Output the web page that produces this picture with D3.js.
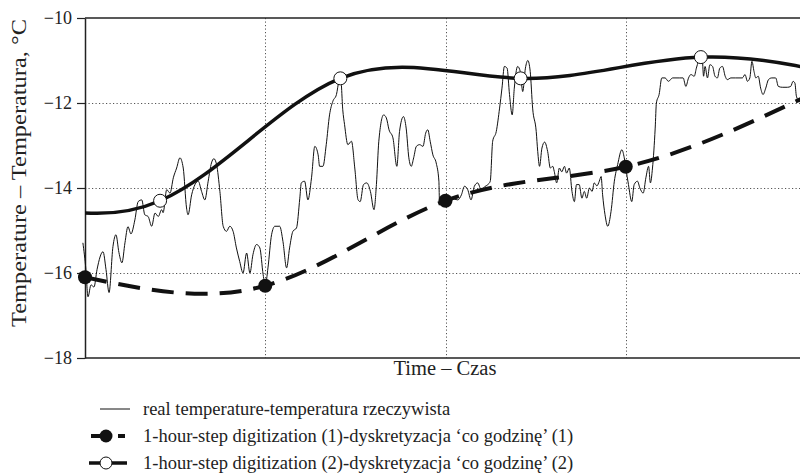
<!DOCTYPE html>
<html>
<head>
<meta charset="utf-8">
<script src="https://cdn.jsdelivr.net/npm/d3@7"></script>
<style>
  body { margin: 0; background: #fff; }
  svg { display: block; font-family: "Liberation Serif", "Times New Roman", serif; }
</style>
</head>
<body>
<svg id="chart" width="800" height="476"></svg>
<script>
// real temperature, minutes from start / degrees C
var realMin = [-0.7, 0.3, 1.0, 2.0, 3.0, 4.0, 6.0, 7.0, 8.0, 9.3, 10.3, 11.3, 12.3, 13.3, 14.3, 15.3, 16.6, 17.7, 18.9, 19.9,
  21.0, 22.2, 23.3, 24.4, 25.5, 26.0, 27.2, 28.3, 29.4, 30.5, 31.6, 32.7, 33.8, 34.3, 35.5, 36.6, 37.7, 38.8, 39.9, 41.0,
  42.1, 42.9, 43.8, 44.9, 46.0, 47.1, 48.2, 49.3, 50.4, 51.5, 52.6, 53.8, 54.9, 55.9, 57.1, 58.2, 59.3, 60.0,
  60.9, 62.1, 63.2, 64.8, 65.9, 67.1, 68.1, 69.2, 70.4, 71.5, 72.0, 73.1, 74.2, 75.4, 76.5, 77.6, 78.1, 79.2, 80.3, 81.4,
  82.5, 83.7, 84.5, 85.1, 85.8, 86.4, 87.5, 88.7, 89.8, 90.9, 91.6, 92.7, 93.8, 95.0, 96.2, 97.0, 97.8, 99.4, 100.3, 101.2,
  102.5, 103.8, 104.7, 106.0, 106.9, 107.8, 108.6, 109.4, 110.3, 111.4, 112.5, 113.4, 114.1, 114.9, 115.8, 116.9, 117.8, 118.0, 120.0,
  122.0, 124.1, 125.3, 126.3, 127.4, 128.5, 129.6, 130.7, 131.9, 133.0, 134.1, 134.9, 135.7, 136.9, 138.0, 138.8, 139.6, 140.5,
  141.3, 142.2, 142.9, 144.0, 144.9, 145.7, 146.6, 147.4, 148.2, 149.0, 150.2, 150.7, 151.3, 152.1, 153.0, 154.0, 154.9, 155.7,
  156.2, 157.0, 157.9, 158.7, 159.6, 160.3, 161.2, 162.1, 162.9, 163.6, 164.5, 165.4, 166.2, 167.0, 167.9, 168.8, 169.5, 170.4,
  171.2, 171.8, 172.3, 173.1, 174.0, 175.1, 176.2, 177.3, 178.7, 179.5, 180.0,
  180.9, 182.0, 182.8, 183.9, 184.7, 185.8, 186.7, 187.6, 188.2, 188.9, 189.8, 190.2, 191.1, 192.0, 193.1, 194.2, 195.6, 197.8,
  199.1, 200.0, 200.9, 201.7, 202.8, 203.5, 204.2, 205.4, 205.9, 206.4, 207.2, 208.0, 208.9, 209.7, 210.5, 211.3, 212.2, 213.1,
  213.8, 215.0, 216.6, 218.8, 219.7, 220.5, 221.3, 222.0, 222.7, 223.3, 224.1, 224.9, 225.7, 226.6, 227.5, 228.6, 229.9, 230.8,
  232.1, 233.8, 234.9, 235.7, 236.3, 236.8, 237.7, 238.5];
var realTemp = [-15.29, -15.92, -16.56, -16.28, -16.33, -15.92, -15.50, -15.92, -16.46, -15.38, -15.10, -15.52, -15.76, -15.29, -14.91, -15.08, -14.75, -14.32, -14.28, -14.63,
  -14.67, -14.90, -14.59, -14.67, -14.51, -14.58, -14.04, -14.12, -13.76, -13.53, -13.29, -13.53, -14.47, -14.63, -14.16, -13.92, -13.84, -14.08, -14.28, -13.84,
  -13.41, -13.31, -13.45, -14.08, -14.90, -15.02, -14.90, -15.02, -15.41, -15.73, -16.00, -15.53, -16.00, -15.57, -15.33, -15.41, -16.04, -16.30,
  -15.88, -15.10, -14.90, -14.90, -15.26, -15.88, -15.41, -15.02, -14.94, -14.24, -13.88, -13.84, -14.28, -13.76, -13.02, -13.22, -13.49, -13.49, -12.98, -12.28,
  -11.96, -11.80, -11.49, -11.40, -12.16, -12.51, -12.98, -12.90, -13.53, -14.28, -14.32, -13.92, -13.88, -14.08, -14.51, -13.92, -12.90, -12.28, -12.35, -12.63,
  -12.82, -13.49, -12.67, -12.32, -12.59, -13.29, -13.49, -13.29, -13.02, -12.98, -13.02, -12.71, -12.63, -12.90, -13.22, -13.41, -13.84, -14.32, -14.30,
  -14.25, -14.28, -14.16, -13.96, -14.04, -14.28, -13.96, -13.88, -14.04, -13.97, -13.92, -13.84, -12.90, -12.67, -12.12, -11.65, -11.14, -11.18,
  -11.80, -12.28, -11.65, -11.14, -11.26, -11.73, -11.18, -11.00, -11.26, -12.12, -12.67, -13.14, -13.49, -13.06, -12.92, -13.14, -13.53, -13.49,
  -13.61, -13.88, -13.53, -13.62, -13.49, -13.65, -13.53, -14.08, -14.32, -13.92, -13.92, -14.24, -14.08, -14.24, -14.00, -14.08, -13.88, -13.95,
  -13.84, -13.73, -14.16, -14.63, -14.90, -14.55, -13.84, -13.45, -13.10, -13.29, -13.52,
  -13.92, -14.32, -13.92, -13.84, -14.00, -14.12, -13.76, -13.49, -13.88, -13.53, -12.59, -12.00, -11.80, -11.41, -11.41, -11.49, -11.41, -11.41,
  -11.41, -11.61, -11.41, -11.33, -11.37, -11.18, -11.02, -10.90, -11.37, -11.14, -11.41, -11.10, -11.14, -11.37, -11.41, -11.18, -11.14, -11.37,
  -11.45, -11.41, -11.41, -11.41, -11.33, -11.49, -11.41, -11.02, -11.26, -11.41, -11.37, -11.65, -11.80, -11.65, -11.45, -11.41, -11.41, -11.61,
  -11.63, -11.63, -11.61, -11.49, -11.53, -11.84, -11.96, -12.00];

// digitization (1): samples on the full hour (last one lies past the right edge)
var dig1Min = [0, 60, 120, 180, 240];
var dig1Temp = [-16.1, -16.3, -14.3, -13.5, -11.85];

// digitization (2): samples shifted by 25 min (first and last lie outside the plot)
var dig2Min = [-35, 25, 85, 145, 205, 265];
var dig2Temp = [-14.0, -14.3, -11.42, -11.42, -10.92, -11.6];

var yTicks = [-10, -12, -14, -16, -18];
var gridMin = [60, 120, 180];
var timeMax = 238;

var legendItems = [
  "real temperature-temperatura rzeczywista",
  "1-hour-step digitization (1)-dyskretyzacja \u2018co godzin\u0119\u2019 (1)",
  "1-hour-step digitization (2)-dyskretyzacja \u2018co godzin\u0119\u2019 (2)"
];

var svg = d3.select("#chart");

var plotL = 85, plotR = 800, plotT = 18, plotB = 358;

var x = d3.scaleLinear().domain([0, timeMax]).range([plotL, plotR]);
var y = d3.scaleLinear().domain([-18, -10]).range([plotB, plotT]);

svg.append("defs").append("clipPath").attr("id", "plotclip")
  .append("rect")
  .attr("x", plotL).attr("y", plotT)
  .attr("width", plotR - plotL).attr("height", plotB - plotT);

// dotted grid
var grid = svg.append("g").attr("stroke", "#555").attr("stroke-width", 1).attr("stroke-dasharray", "1.2,2.3");
grid.selectAll(".hg")
  .data(yTicks.filter(function(d) { return d != -10 && d != -18; }))
  .enter().append("line")
  .attr("x1", plotL).attr("x2", plotR)
  .attr("y1", function(d) { return Math.round(y(d)) + 0.5; })
  .attr("y2", function(d) { return Math.round(y(d)) + 0.5; });
grid.selectAll(".vg")
  .data(gridMin)
  .enter().append("line")
  .attr("y1", plotT).attr("y2", plotB)
  .attr("x1", function(d) { return Math.round(x(d)) + 0.5; })
  .attr("x2", function(d) { return Math.round(x(d)) + 0.5; });

// frame
svg.append("line").attr("x1", plotL).attr("x2", plotR).attr("y1", plotT).attr("y2", plotT)
  .attr("stroke", "#222").attr("stroke-width", 1.5);
svg.append("line").attr("x1", plotL).attr("x2", plotR).attr("y1", plotB).attr("y2", plotB)
  .attr("stroke", "#222").attr("stroke-width", 1.5);

// Y-axis
var yAxis = svg.append("g")
  .attr("transform", "translate(" + plotL + ",0)")
  .call(d3.axisLeft(y).tickValues(yTicks).tickSizeInner(8).tickSizeOuter(0).tickPadding(5));
yAxis.select(".domain").attr("stroke", "#222").attr("stroke-width", 1.5);
yAxis.selectAll(".tick line").attr("stroke", "#222").attr("stroke-width", 1.2);
yAxis.selectAll("text").attr("font-size", 18).attr("fill", "#222")
  .attr("font-family", "'Liberation Serif', 'Times New Roman', serif");

svg.append("text")
  .attr("transform", "translate(26,173) rotate(-90)")
  .attr("text-anchor", "middle")
  .attr("font-size", 20.5)
  .attr("textLength", 308)
  .attr("lengthAdjust", "spacingAndGlyphs")
  .attr("fill", "#222")
  .text("Temperature \u2013 Temperatura, \u00B0C");

svg.append("text")
  .attr("x", 445)
  .attr("y", 375)
  .attr("text-anchor", "middle")
  .attr("font-size", 20.5)
  .attr("fill", "#222")
  .text("Time \u2013 Czas");

var plot = svg.append("g").attr("clip-path", "url(#plotclip)");

var realData = realMin.map(function(m, i) { return {m: m, t: realTemp[i]}; });
var dig1 = dig1Min.map(function(m, i) { return {m: m, t: dig1Temp[i]}; });
var dig2 = dig2Min.map(function(m, i) { return {m: m, t: dig2Temp[i]}; });

var lineReal = d3.line()
  .x(function(d) { return x(d.m); })
  .y(function(d) { return y(d.t); })
  .curve(d3.curveMonotoneX);

var lineDig = d3.line()
  .x(function(d) { return x(d.m); })
  .y(function(d) { return y(d.t); })
  .curve(d3.curveNatural);

// real temperature (not clipped on the left, it starts a hair before the axis)
svg.append("path")
  .datum(realData)
  .attr("fill", "none")
  .attr("stroke", "#111")
  .attr("stroke-width", 1)
  .attr("stroke-linejoin", "round")
  .attr("d", lineReal);

// digitization (2) - solid
plot.append("path")
  .datum(dig2)
  .attr("fill", "none")
  .attr("stroke", "#111")
  .attr("stroke-width", 3.5)
  .attr("d", lineDig);

// digitization (1) - dashed
plot.append("path")
  .datum(dig1)
  .attr("fill", "none")
  .attr("stroke", "#111")
  .attr("stroke-width", 4)
  .attr("stroke-dasharray", "22,12")
  .attr("d", lineDig);

var inView = function(d) { return d.m >= 0 && d.m <= timeMax; };

svg.selectAll(".dot2")
  .data(dig2.filter(inView))
  .enter().append("circle")
  .attr("r", 6.5)
  .attr("cx", function(d) { return x(d.m); })
  .attr("cy", function(d) { return y(d.t); })
  .attr("fill", "#fff")
  .attr("stroke", "#111")
  .attr("stroke-width", 1);

svg.selectAll(".dot1")
  .data(dig1.filter(inView))
  .enter().append("circle")
  .attr("r", 7)
  .attr("cx", function(d) { return x(d.m); })
  .attr("cy", function(d) { return y(d.t); })
  .attr("fill", "#111");

// legend
var rowY = [409, 436, 463];
var legend = svg.append("g");
legend.selectAll("text")
  .data(legendItems)
  .enter().append("text")
  .attr("x", 143)
  .attr("y", function(d, i) { return rowY[i] + 6; })
  .attr("font-size", 18.5)
  .attr("fill", "#222")
  .text(function(d) { return d; });

legend.append("line").attr("x1", 100).attr("x2", 130).attr("y1", rowY[0]).attr("y2", rowY[0])
  .attr("stroke", "#111").attr("stroke-width", 1);

legend.append("line").attr("x1", 91).attr("x2", 100).attr("y1", rowY[1]).attr("y2", rowY[1])
  .attr("stroke", "#111").attr("stroke-width", 4);
legend.append("line").attr("x1", 118).attr("x2", 125).attr("y1", rowY[1]).attr("y2", rowY[1])
  .attr("stroke", "#111").attr("stroke-width", 4);
legend.append("circle").attr("cx", 106).attr("cy", rowY[1]).attr("r", 6.5).attr("fill", "#111");

legend.append("line").attr("x1", 89).attr("x2", 127).attr("y1", rowY[2]).attr("y2", rowY[2])
  .attr("stroke", "#111").attr("stroke-width", 3.5);
legend.append("circle").attr("cx", 106).attr("cy", rowY[2]).attr("r", 6).attr("fill", "#fff")
  .attr("stroke", "#111").attr("stroke-width", 1);
</script>
</body>
</html>
